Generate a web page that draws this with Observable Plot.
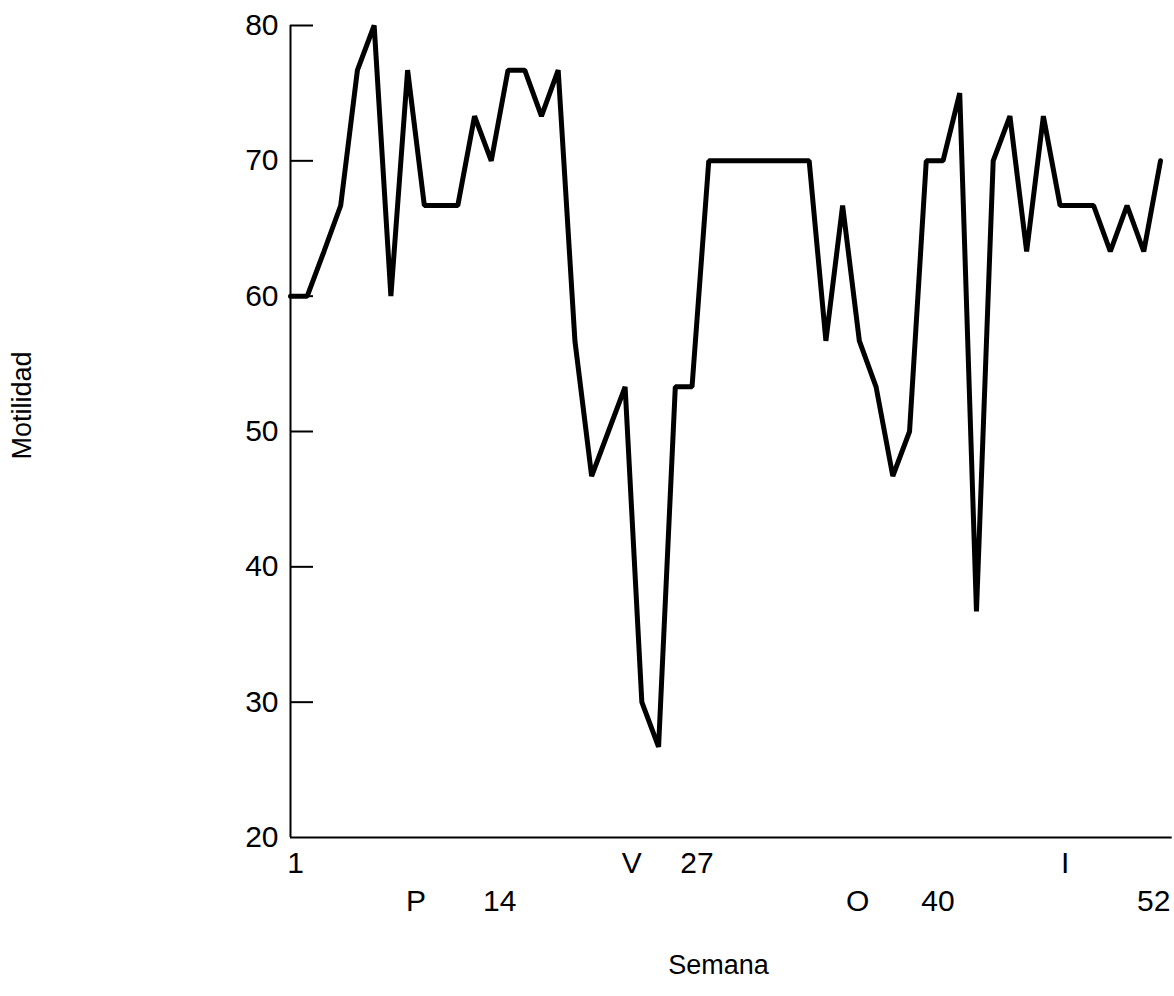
<!DOCTYPE html>
<html>
<head>
<meta charset="utf-8">
<script src="https://cdn.jsdelivr.net/npm/d3@7"></script>
<script src="https://cdn.jsdelivr.net/npm/@observablehq/plot@0.6"></script>
<style>
  html, body { margin: 0; padding: 0; background: #fff; }
  #chart svg { display: block; }
</style>
</head>
<body>
<div id="chart"></div>
<script>
// Sampling index (53 samples across the year)
const weeks = [1,2,3,4,5,6,7,8,9,10,11,12,13,14,15,16,17,18,19,20,21,22,23,24,25,26,27,28,29,30,31,32,33,34,35,36,37,38,39,40,41,42,43,44,45,46,47,48,49,50,51,52,53];
// Motilidad (%)
const motilidad = [60,60,63.3,66.7,76.7,80,60,76.7,66.7,66.7,66.7,73.3,70,76.7,76.7,73.3,76.7,56.7,46.7,50,53.3,30,26.7,53.3,53.3,70,70,70,70,70,70,70,56.7,66.7,56.7,53.3,46.7,50,70,70,75,36.7,70,73.3,63.3,73.3,66.7,66.7,66.7,63.3,66.7,63.3,70];

const yTicks = [20,30,40,50,60,70,80];
// Week number labels (two staggered rows as in the original)
const weekLabels = ["1","14","27","40","52"];
const weekLabelPos = [1.3,13.5,25.3,39.7,52.6];
const weekLabelRow = [1,2,1,2,2];
// Season letters
const seasonLabels = ["P","V","O","I"];
const seasonPos = [8.5,21.4,34.9,47.3];
const seasonRow = [2,1,2,1];

const series = weeks.map((w, i) => ({week: w, value: motilidad[i]}));
const xLabels = weekLabels.map((t, i) => ({text: t, pos: weekLabelPos[i], row: weekLabelRow[i]}))
  .concat(seasonLabels.map((t, i) => ({text: t, pos: seasonPos[i], row: seasonRow[i]})));

const font = "'Liberation Sans', Arial, sans-serif";

const chart = Plot.plot({
  width: 1174,
  height: 996,
  marginLeft: 290,
  marginRight: 14,
  marginTop: 25,
  marginBottom: 159,
  style: {fontFamily: font, background: "#fff", color: "#000"},
  x: {domain: [1, 53], axis: null},
  y: {domain: [20, 80], axis: null},
  marks: [
    Plot.ruleX([1], {y1: 20, y2: 80, stroke: "#000", strokeWidth: 2}),
    Plot.ruleY([20], {x1: 1, x2: 53.7, stroke: "#000", strokeWidth: 2}),
    Plot.axisY(yTicks.filter(d => d > 20), {tickSize: -23, tickPadding: 0, text: null, label: null, strokeWidth: 2}),
    Plot.axisY(yTicks, {tickSize: 0, tickPadding: 12, fontSize: 30, tickFormat: d => String(d), label: null}),
    Plot.line(series, {x: "week", y: "value", stroke: "#000", strokeWidth: 5, strokeLinejoin: "miter"}),
    Plot.text(xLabels.filter(d => d.row === 1), {x: "pos", text: "text", frameAnchor: "bottom", lineAnchor: "middle", dy: 26, fontSize: 30}),
    Plot.text(xLabels.filter(d => d.row === 2), {x: "pos", text: "text", frameAnchor: "bottom", lineAnchor: "middle", dy: 64, fontSize: 30}),
    Plot.text(["Semana"], {frameAnchor: "bottom", textAnchor: "middle", lineAnchor: "middle", dx: -7, dy: 128, fontSize: 27}),
    Plot.text(["Motilidad"], {frameAnchor: "left", textAnchor: "middle", lineAnchor: "middle", dx: -268, dy: -26, rotate: -90, fontSize: 27})
  ]
});
document.getElementById("chart").appendChild(chart);
</script>
</body>
</html>
